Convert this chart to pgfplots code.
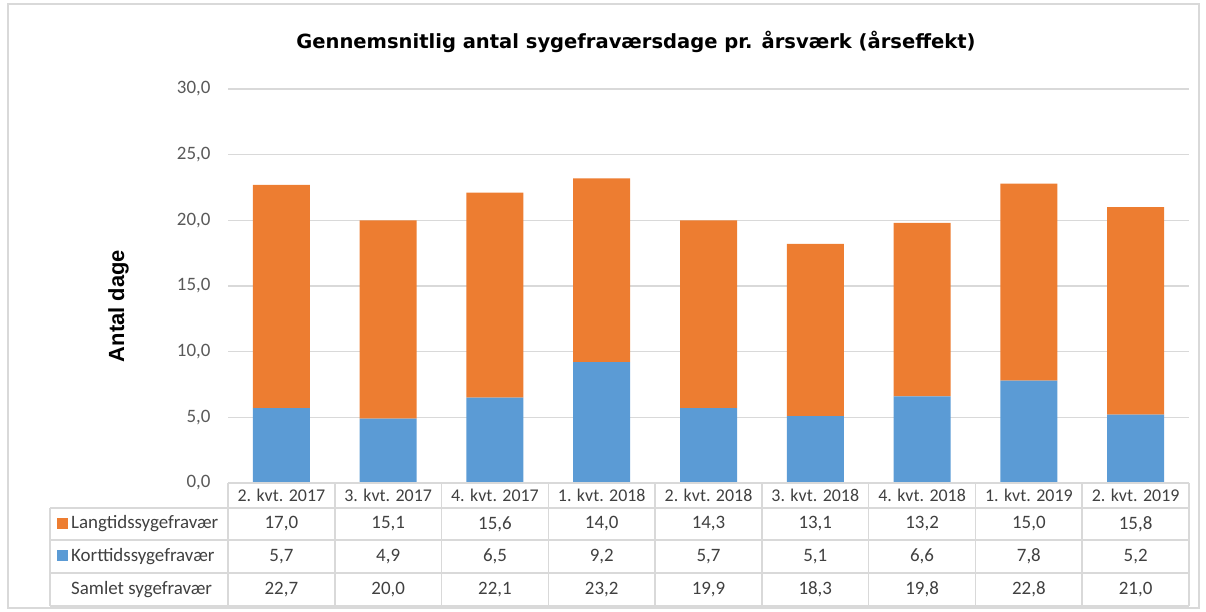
\documentclass[border=0pt]{standalone}
\usepackage{pgfplots}
\pgfplotsset{compat=1.18}
\usepackage{fontspec}
\setmainfont{Carlito}
\newfontfamily\titlefont{DejaVu Sans}
\newfontfamily\labfont{Liberation Sans}
\definecolor{lang}{HTML}{ED7D31}
\definecolor{kort}{HTML}{5B9BD5}
\definecolor{gridc}{HTML}{D9D9D9}
\definecolor{tickc}{HTML}{595959}
\definecolor{tabc}{HTML}{404040}
\begin{document}
\begin{tikzpicture}[x=1bp,y=1bp]
\useasboundingbox (0,0) rectangle (1206,612);
\draw[gridc, line width=1.2bp] (8,4) rectangle (1199,608);
\begin{axis}[at={(228bp,129bp)}, anchor=south west, scale only axis,
  width=961bp, height=394bp,
  ymin=0, ymax=30, xmin=-0.5, xmax=8.5,
  ytick={0,5,10,15,20,25,30}, xtick=\empty,
  axis line style={draw=none}, major tick length=0pt,
  ymajorgrids, grid style={gridc, line width=1.2bp},
  ybar stacked, bar width=57bp,
  yticklabel style={font=\fontsize{19}{22}\selectfont, text=tickc, xshift=-14bp,
    /pgf/number format/.cd, use comma, fixed, fixed zerofill, precision=1, assume math mode=true},
]
\addplot[fill=kort, draw=none] coordinates {(0,5.7) (1,4.9) (2,6.5) (3,9.2) (4,5.7) (5,5.1) (6,6.6) (7,7.8) (8,5.2)};
\addplot[fill=lang, draw=none] coordinates {(0,17.0) (1,15.1) (2,15.6) (3,14.0) (4,14.3) (5,13.1) (6,13.2) (7,15.0) (8,15.8)};
\end{axis}
% title and y label
\node[font=\titlefont\bfseries\fontsize{19.6}{24}\selectfont] at (636,570) {Gennemsnitlig antal sygefraværsdage pr. årsværk (årseffekt)};
\node[rotate=90, font=\labfont\bfseries\fontsize{22}{26}\selectfont] at (118.5,306) {Antal dage};
% data table
\begin{scope}[gridc, line width=1.6bp]
\draw (228,129) -- (1189,129);
\foreach \yy in {104,72,39,6} \draw (50,\yy) -- (1189,\yy);
\draw (50,104) -- (50,6);
\foreach \i in {0,...,9} \draw ({228+\i*106.78},129) -- ({228+\i*106.78},6);
\end{scope}
\foreach \lab [count=\i from 0] in {2. kvt. 2017,3. kvt. 2017,4. kvt. 2017,1. kvt. 2018,2. kvt. 2018,3. kvt. 2018,4. kvt. 2018,1. kvt. 2019,2. kvt. 2019}
  \node[font=\fontsize{18}{21}\selectfont, text=tabc] at ({281.4+\i*106.78},117) {\lab};
\foreach \v [count=\i from 0] in {17{,}0,15{,}1,15{,}6,14{,}0,14{,}3,13{,}1,13{,}2,15{,}0,15{,}8}
  \node[font=\fontsize{19}{22}\selectfont, text=tabc] at ({281.4+\i*106.78},88) {\v};
\foreach \v [count=\i from 0] in {5{,}7,4{,}9,6{,}5,9{,}2,5{,}7,5{,}1,6{,}6,7{,}8,5{,}2}
  \node[font=\fontsize{19}{22}\selectfont, text=tabc] at ({281.4+\i*106.78},55.5) {\v};
\foreach \v [count=\i from 0] in {22{,}7,20{,}0,22{,}1,23{,}2,19{,}9,18{,}3,19{,}8,22{,}8,21{,}0}
  \node[font=\fontsize{19}{22}\selectfont, text=tabc] at ({281.4+\i*106.78},22.5) {\v};
\fill[lang] (57,83) rectangle (68,94);
\fill[kort] (57,50.5) rectangle (68,61.5);
\node[font=\fontsize{19}{22}\selectfont, text=tabc, anchor=west, inner sep=0pt] at (71,88) {Langtidssygefravær};
\node[font=\fontsize{19}{22}\selectfont, text=tabc, anchor=west, inner sep=0pt] at (71,55.5) {Korttidssygefravær};
\node[font=\fontsize{19}{22}\selectfont, text=tabc, anchor=west, inner sep=0pt] at (71,22.5) {Samlet sygefravær};
\end{tikzpicture}
\end{document}
